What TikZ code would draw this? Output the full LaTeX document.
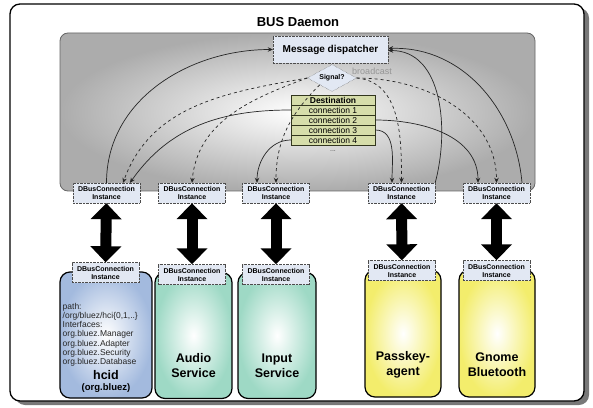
\documentclass[tikz,border=0pt]{standalone}
\usepackage{fontspec}
\setmainfont{Liberation Sans}
\usetikzlibrary{positioning,shapes.geometric,arrows.meta,calc}
\definecolor{busgray}{RGB}{172,172,172}
\definecolor{instfill}{RGB}{226,232,243}
\definecolor{rowfill}{RGB}{214,221,170}
\definecolor{rowline}{RGB}{50,54,30}
\definecolor{hcidfill}{RGB}{163,186,222}
\definecolor{svcfill}{RGB}{158,217,197}
\definecolor{agentfill}{RGB}{243,237,108}
\definecolor{castgray}{RGB}{150,150,150}
\definecolor{shadowgray}{RGB}{120,120,120}

\begin{document}
\begin{tikzpicture}[x=1pt,y=1pt,
    % Node styles
    instance/.style={rectangle, draw=black!70, densely dotted, fill=instfill, minimum width=67pt,
                     minimum height=20pt, inner sep=1pt, align=center, font=\fontsize{7}{8}\selectfont\bfseries},
    dispatcher/.style={rectangle, draw=black!70, densely dotted, fill=instfill, minimum width=115pt,
                       minimum height=27pt, font=\fontsize{10}{12}\selectfont\bfseries},
    decision/.style={diamond, draw=black!70, densely dotted, fill=instfill, minimum width=49pt,
                     minimum height=27pt, inner sep=0pt, aspect=1.8, font=\fontsize{7}{8}\selectfont\bfseries},
    tablerow/.style={rectangle, draw=rowline, fill=rowfill, minimum width=84pt, minimum height=10pt,
                     inner sep=0pt, font=\fontsize{8.5}{9}\selectfont},
    service/.style={rectangle, rounded corners=10pt, draw=black, line width=1.2pt,
                    inner color=white, minimum width=77pt, minimum height=126pt},
    svctext/.style={align=center, font=\fontsize{12.5}{15}\selectfont\bfseries},
    info/.style={align=left, inner sep=0pt, font=\fontsize{8.5}{9.2}\selectfont, color=black!85},
    % Arrow styles
    dataflow/.style={-{Stealth[length=5pt,width=4.5pt]}, line width=0.7pt, color=black!85},
    signal/.style={-{Stealth[length=5pt,width=4.5pt]}, line width=0.7pt, color=black!85, dashed},
    link/.style={{Triangle[width=30pt,length=16pt]}-{Triangle[width=30pt,length=16pt]}, line width=11pt}
]
\useasboundingbox (0,0) rectangle (593,407);

% Outer frame with shadow
\fill[shadowgray, rounded corners=10pt] (15,2) rectangle (589,399);
\draw[fill=white, line width=1.3pt, rounded corners=10pt] (10,6) rectangle (584,403);
\node[font=\fontsize{13}{15}\selectfont\bfseries] (title) at (298,385) {BUS Daemon};

% Bus area
\shadedraw[inner color=white, outer color=busgray, draw=black!60, line width=0.8pt,
    rounded corners=8pt] (60,216) rectangle (535,374);

% Dispatcher, signal test and destination table
\node[dispatcher] (disp) at (330.5,357.5) {Message dispatcher};
\node[decision] (sig) at (332,329) {Signal?};
\node[tablerow, font=\fontsize{8.5}{9}\selectfont\bfseries] (dest) at (333,307) {Destination};
\node[tablerow] (conn1) at (333,297) {connection 1};
\node[tablerow] (conn2) at (333,287) {connection 2};
\node[tablerow] (conn3) at (333,277) {connection 3};
\node[tablerow] (conn4) at (333,267) {connection 4};
\node[font=\fontsize{7}{8}\selectfont, color=black!70] (more) at (333,256) {...};

% Client processes
\node[service, outer color=hcidfill, minimum width=92pt] (hcid) at (106,72) {};
\node[service, outer color=svcfill] (audio) at (193.5,71.5) {};
\node[service, outer color=svcfill, minimum width=78pt] (input) at (277,71.5) {};
\node[service, outer color=agentfill, minimum width=76pt, minimum height=127pt] (passkey) at (403,73.5) {};
\node[service, outer color=agentfill, minimum width=76pt, minimum height=127pt] (gnome) at (497,73.5) {};

\node[info, anchor=north west] (hcidinfo) at (62.5,104) {path:\\/org/bluez/hci\{0,1,..\}\\Interfaces:\\org.bluez.Manager\\org.bluez.Adapter\\org.bluez.Security\\org.bluez.Database};
\node[font=\fontsize{12.5}{14}\selectfont\bfseries] (hcidname) at (106,32) {hcid};
\node[font=\fontsize{9.5}{11}\selectfont\bfseries] (hcidbus) at (106,18.5) {(org.bluez)};
\node[svctext] (audiotxt) at (193.5,41.5) {Audio\\Service};
\node[svctext] (inputtxt) at (277,41.5) {Input\\Service};
\node[svctext] (passkeytxt) at (403,42.5) {Passkey-\\agent};
\node[svctext] (gnometxt) at (497,42.5) {Gnome\\Bluetooth};

% Connection instances
\node[instance] (top1) at (106.5,214) {DBusConnection\\Instance};
\node[instance] (top2) at (192,214) {DBusConnection\\Instance};
\node[instance] (top3) at (276,214) {DBusConnection\\Instance};
\node[instance] (top4) at (401.5,214) {DBusConnection\\Instance};
\node[instance] (top5) at (496.5,214) {DBusConnection\\Instance};

\node[instance] (bot1) at (105.5,134.5) {DBusConnection\\Instance};
\node[instance] (bot2) at (192,132.5) {DBusConnection\\Instance};
\node[instance] (bot3) at (276,132.5) {DBusConnection\\Instance};
\node[instance] (bot4) at (402,136.5) {DBusConnection\\Instance};
\node[instance] (bot5) at (496.5,136.5) {DBusConnection\\Instance};

% Links between bus and clients
\draw[link] (top1) -- (bot1);
\draw[link] (top2) -- (bot2);
\draw[link] (top3) -- (bot3);
\draw[link] (top4) -- (bot4);
\draw[link] (top5) -- (bot5);

% Messages into the dispatcher
\draw[dataflow] (top1.north) to[out=90, in=180] (disp.west);
\draw[dataflow] (top4.north east) to[out=75, in=0] ([yshift=-1]disp.east);
\draw[dataflow] ([xshift=25.5]top5.north) to[out=95, in=2] ([yshift=1]disp.east);

% Signals broadcast to every connection
\draw[signal] (sig.west) to[out=190, in=70] ([xshift=16.5]top1.north);
\draw[signal] (sig.west) to[out=200, in=85] (top2.north);
\draw[signal] (sig.south west) to[out=225, in=90] (top3.north);
\draw[signal] (sig.east) to[out=-5, in=90] (top4.north);
\draw[signal] (sig.east) to[out=0, in=90] (top5.north);
\node[font=\fontsize{9}{10}\selectfont, color=castgray] (cast) at (372,336) {broadcast};

% Method calls to their destination
\draw[dataflow] (conn1.west) to[out=180, in=55] ([xshift=23.5]top1.north);
\draw[dataflow] (conn4.west) to[out=180, in=90] ([xshift=-19]top3.north);
\draw[dataflow] (conn3.east) to[out=0, in=90] ([xshift=-9.5]top4.north);
\draw[dataflow] (conn2.east) to[out=0, in=90] ([xshift=-18.5]top5.north);

\end{tikzpicture}
\end{document}
